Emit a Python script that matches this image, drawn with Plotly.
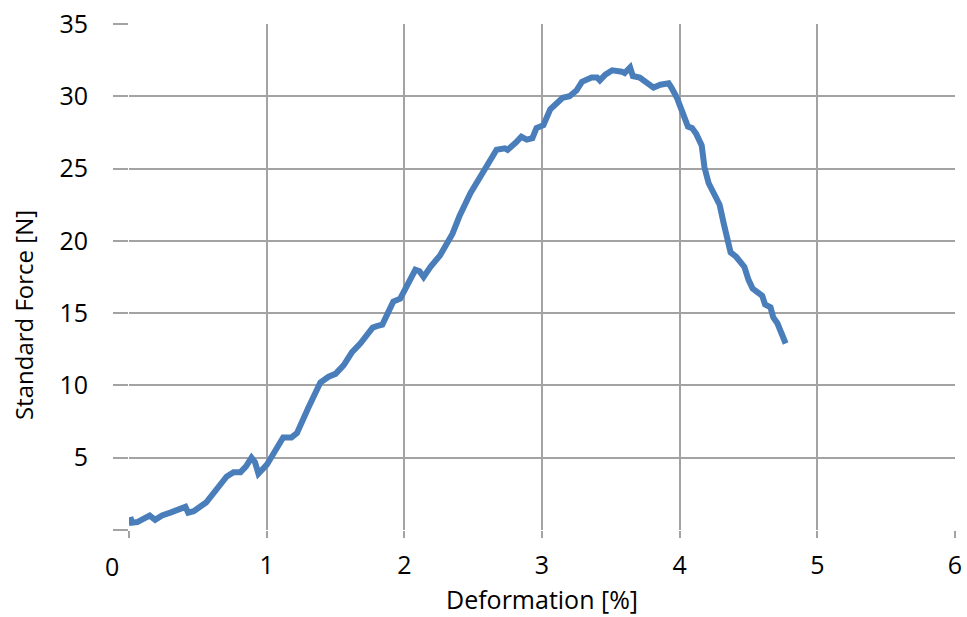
import plotly.graph_objects as go

# Tensile test trace: deformation [%] vs. standard force [N]
deformation = [
    0.01, 0.02, 0.06, 0.10, 0.15, 0.19, 0.24, 0.30, 0.37, 0.41, 0.43, 0.47,
    0.56, 0.63, 0.71, 0.76, 0.81, 0.85, 0.89, 0.915, 0.94, 1.00, 1.07, 1.12,
    1.18, 1.22, 1.30, 1.39, 1.45, 1.50, 1.56, 1.62, 1.68, 1.73, 1.77, 1.80,
    1.84, 1.88, 1.92, 1.97, 2.03, 2.08, 2.11, 2.14, 2.19, 2.26, 2.35, 2.40,
    2.48, 2.55, 2.62, 2.67, 2.73, 2.75, 2.81, 2.85, 2.89, 2.93, 2.96, 3.01,
    3.06, 3.11, 3.15, 3.20, 3.25, 3.29, 3.36, 3.40, 3.42, 3.46, 3.51, 3.58,
    3.60, 3.64, 3.66, 3.71, 3.81, 3.86, 3.92, 3.94, 3.98, 4.02, 4.06, 4.09,
    4.12, 4.16, 4.18, 4.21, 4.24, 4.29, 4.32, 4.35, 4.37, 4.41, 4.47, 4.50,
    4.53, 4.60, 4.62, 4.66, 4.68, 4.71, 4.74, 4.77,
]
force = [
    0.9, 0.5, 0.55, 0.8, 1.0, 0.7, 1.0, 1.2, 1.5, 1.6, 1.2, 1.3,
    1.9, 2.7, 3.7, 4.0, 4.0, 4.4, 5.0, 4.7, 3.9, 4.5, 5.7, 6.4,
    6.4, 6.7, 8.4, 10.2, 10.6, 10.8, 11.4, 12.3, 12.9, 13.5, 14.0, 14.1,
    14.2, 15.0, 15.8, 16.0, 17.0, 18.0, 17.9, 17.5, 18.2, 19.0, 20.5, 21.7,
    23.3, 24.4, 25.4, 26.3, 26.4, 26.3, 26.8, 27.2, 27.0, 27.1, 27.8, 28.0,
    29.1, 29.5, 29.9, 30.0, 30.4, 31.0, 31.3, 31.3, 31.1, 31.5, 31.8, 31.7,
    31.6, 32.0, 31.4, 31.3, 30.6, 30.8, 30.9, 30.6, 29.9, 28.9, 27.9, 27.8,
    27.4, 26.6, 25.1, 24.0, 23.4, 22.5, 21.2, 20.1, 19.2, 18.9, 18.2, 17.3,
    16.7, 16.2, 15.6, 15.4, 14.7, 14.3, 13.6, 12.9,
]

x_ticks = [0, 1, 2, 3, 4, 5, 6]
x_tick_text = ["", "1", "2", "3", "4", "5", "6"]
y_ticks = [0, 5, 10, 15, 20, 25, 30, 35]
y_tick_text = ["", "5", "10", "15", "20", "25", "30", "35"]

FONT = "Open Sans"
GRID = "#a3a3a3"
LINE = "#4a7ebb"
TICK_SIZE = 25

fig = go.Figure(
    go.Scatter(
        x=deformation,
        y=force,
        mode="lines",
        line=dict(color=LINE, width=6),
        showlegend=False,
        hoverinfo="x+y",
    )
)

axis_common = dict(
    showgrid=True,
    gridcolor=GRID,
    gridwidth=2,
    zeroline=False,
    showline=False,
    ticks="outside",
    tickcolor=GRID,
    tickwidth=2,
    tickfont=dict(family=FONT, size=TICK_SIZE, color="#000000"),
    fixedrange=True,
    automargin=False,
)

fig.update_xaxes(
    range=[0, 6],
    tickmode="array",
    tickvals=x_ticks,
    ticktext=x_tick_text,
    ticklen=7,
    ticklabelstandoff=6,
    **axis_common,
)
fig.update_yaxes(
    range=[0, 35],
    tickmode="array",
    tickvals=y_ticks,
    ticktext=y_tick_text,
    ticklen=15,
    ticklabelstandoff=20,
    **axis_common,
)

fig.update_layout(
    width=967,
    height=617,
    autosize=False,
    margin=dict(l=129, r=12, t=24, b=87),
    paper_bgcolor="#ffffff",
    plot_bgcolor="#ffffff",
    font=dict(family=FONT, color="#000000"),
    annotations=[
        dict(
            text="Deformation [%]",
            xref="paper", yref="paper",
            x=0.5, y=-0.1715,
            xanchor="center", yanchor="bottom",
            showarrow=False,
            borderpad=0,
            font=dict(family=FONT, size=25, color="#000000"),
        ),
        dict(
            text="Standard Force [N]",
            xref="paper", yref="paper",
            x=-0.127, y=0.425,
            xanchor="center", yanchor="middle",
            textangle=-90,
            showarrow=False,
            font=dict(family=FONT, size=24, color="#000000"),
        ),
        dict(
            text="0",
            xref="paper", yref="paper",
            x=-0.0206, y=-0.0711,
            xanchor="center", yanchor="middle",
            showarrow=False,
            font=dict(family=FONT, size=TICK_SIZE, color="#000000"),
        ),
    ],
)

fig.write_html("out.html")
